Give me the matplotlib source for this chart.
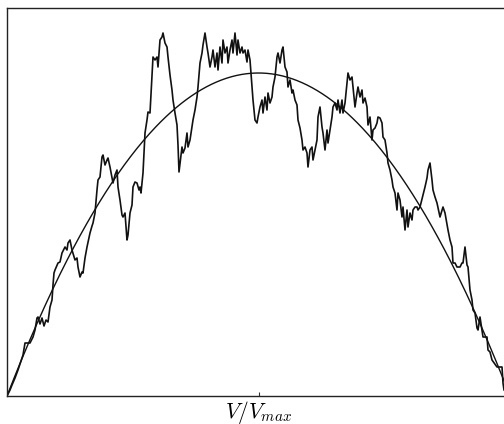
import numpy as np
import matplotlib
matplotlib.use("Agg")
import matplotlib.pyplot as plt

plt.rcParams['mathtext.fontset'] = 'cm'

# volume bins (V, in units where V_max = 503) and counts
V_MAX = 503.0
V = [0, 3, 5, 8, 11, 13, 16, 18, 23, 26,
     28, 30, 31, 33, 35, 37, 39, 41, 43, 45,
     46, 47, 48, 51, 53, 55, 58, 60, 61, 63,
     65, 68, 70, 71, 73, 75, 76, 78, 80, 83,
     85, 86, 88, 90, 91, 93, 95, 96, 98, 100,
     101, 103, 106, 108, 110, 111, 113, 115, 116, 118,
     120, 121, 123, 125, 126, 128, 130, 132, 133, 134,
     136, 138, 140, 141, 143, 145, 146, 148, 150, 151,
     153, 155, 156, 158, 160, 161, 163, 165, 166, 168,
     170, 171, 172, 174, 175, 176, 178, 180, 181, 183,
     185, 186, 188, 190, 191, 193, 195, 196, 198, 200,
     201, 203, 205, 206, 208, 210, 211, 213, 215, 216,
     218, 220, 221, 223, 225, 226, 228, 230, 231, 233,
     235, 236, 238, 240, 241, 243, 245, 246, 248, 250,
     251, 253, 255, 256, 258, 260, 261, 263, 265, 266,
     268, 270, 271, 273, 275, 276, 278, 280, 281, 283,
     285, 286, 288, 290, 291, 293, 295, 296, 298, 300,
     301, 303, 305, 306, 308, 310, 311, 313, 315, 316,
     318, 320, 321, 323, 325, 326, 328, 330, 331, 333,
     335, 336, 338, 340, 341, 343, 345, 346, 348, 350,
     351, 353, 355, 356, 358, 360, 361, 363, 365, 366,
     368, 370, 371, 373, 375, 376, 378, 380, 381, 383,
     385, 386, 388, 390, 391, 393, 395, 396, 398, 400,
     401, 403, 405, 406, 408, 410, 411, 413, 416, 418,
     420, 421, 423, 425, 426, 428, 430, 433, 436, 438,
     441, 443, 445, 446, 448, 450, 453, 455, 456, 458,
     460, 461, 463, 465, 466, 468, 470, 471, 473, 476,
     480, 481, 483, 485, 490, 495, 496, 497, 503]
N = [0, 6, 11, 18, 26, 32, 41, 53, 53, 59,
     66, 78, 79, 72, 78, 70, 76, 74, 89, 96,
     111, 123, 126, 133, 134, 143, 149, 146, 153, 156,
     146, 136, 138, 129, 119, 124, 123, 138, 149, 163,
     170, 173, 183, 206, 216, 219, 239, 241, 231, 236,
     238, 229, 213, 221, 226, 209, 196, 181, 179, 183,
     156, 161, 183, 191, 209, 214, 213, 206, 209, 203,
     223, 263, 276, 284, 283, 321, 339, 336, 339, 329,
     356, 359, 363, 353, 349, 339, 321, 306, 296, 283,
     271, 251, 224, 241, 249, 243, 248, 263, 249, 256,
     269, 276, 286, 299, 309, 333, 343, 351, 363, 349,
     343, 329, 339, 346, 329, 343, 326, 349, 333, 356,
     343, 349, 333, 346, 356, 343, 363, 341, 356, 343,
     349, 343, 346, 334, 346, 336, 309, 296, 276, 273,
     279, 289, 296, 283, 299, 286, 303, 293, 299, 309,
     319, 339, 343, 333, 346, 349, 329, 324, 309, 316,
     303, 306, 296, 291, 276, 268, 256, 246, 249, 243,
     229, 246, 249, 236, 246, 256, 279, 289, 269, 263,
     246, 266, 253, 266, 279, 289, 293, 286, 296, 283,
     296, 283, 293, 313, 323, 316, 319, 309, 289, 303,
     309, 299, 306, 293, 298, 289, 271, 279, 256, 266,
     268, 273, 279, 278, 273, 259, 256, 243, 233, 226,
     216, 209, 203, 186, 203, 196, 179, 189, 166, 186,
     169, 183, 176, 186, 189, 189, 186, 189, 201, 209,
     218, 226, 233, 216, 206, 199, 193, 179, 189, 183,
     166, 156, 149, 133, 133, 129, 129, 133, 133, 149,
     131, 129, 106, 96, 86, 83, 68, 66, 79, 59,
     59, 46, 44, 36, 29, 29, 13, 6, 0]

# fitted parabola: peak height at V/V_max = 0.5
PEAK = 323.0

fig = plt.figure(figsize=(5.04, 4.24), dpi=100)
ax = fig.add_axes([7 / 504, 28 / 424, 503 / 504, 388 / 424])

x = np.array(V) / V_MAX
ax.plot(x, N, color='#111111', lw=1.2)

xs = np.linspace(0, 1, 400)
ax.plot(xs, 4 * PEAK * xs * (1 - xs), color='#111111', lw=1.0)

ax.set_xlim(0, 1)
ax.set_ylim(0, 388)
ax.set_xticks([0.5])
ax.set_xticklabels([])
ax.set_yticks([])
ax.tick_params(axis='x', direction='in', length=3, width=0.8, color='#333333')
for s in ax.spines.values():
    s.set_linewidth(1.0)
    s.set_color('#222222')

ax.set_xlabel(r'$V/V_{max}$', fontsize=15.5, labelpad=-1.5)

fig.savefig('out.png', dpi=100)
